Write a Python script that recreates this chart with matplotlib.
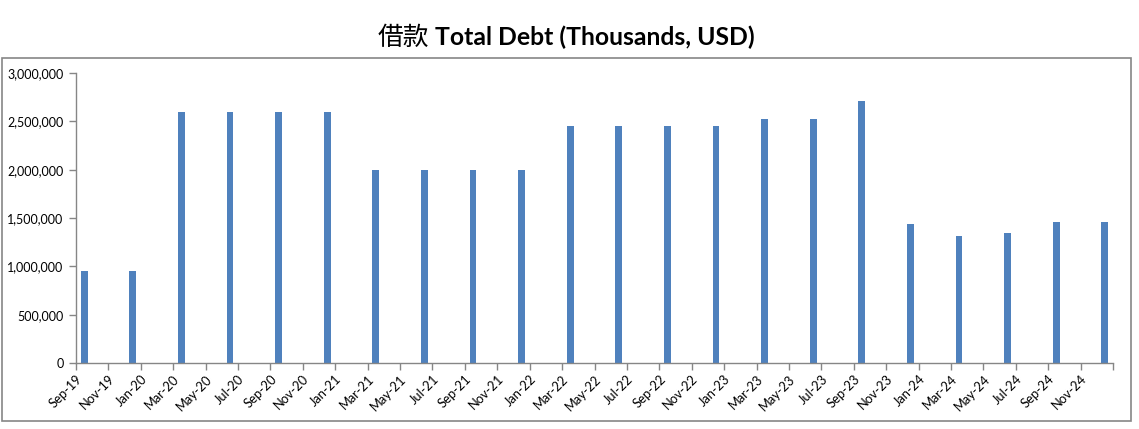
import matplotlib
matplotlib.use('Agg')
import matplotlib.pyplot as plt
from matplotlib.patches import Rectangle
from matplotlib.ticker import FuncFormatter
from matplotlib.transforms import ScaledTranslation
import pandas as pd

quarters = ['Sep-19', 'Dec-19', 'Mar-20', 'Jun-20', 'Sep-20', 'Dec-20', 'Mar-21', 'Jun-21',
            'Sep-21', 'Dec-21', 'Mar-22', 'Jun-22', 'Sep-22', 'Dec-22', 'Mar-23', 'Jun-23',
            'Sep-23', 'Dec-23', 'Mar-24', 'Jun-24', 'Sep-24', 'Dec-24']
total_debt = [950000, 950000, 2600000, 2600000, 2600000, 2600000, 2000000, 2000000,
              2000000, 2000000, 2450000, 2450000, 2450000, 2450000, 2520000, 2520000,
              2710000, 1440000, 1310000, 1340000, 1460000, 1460000]
axis_start = 'Sep-19'
axis_end = 'Jan-25'
title_cn = '借款'
title_en = 'Total Debt (Thousands, USD)'

bar_color = '#4F81BD'
axis_color = '#868686'

plt.rcParams['font.family'] = ['Lato', 'Noto Sans CJK SC', 'DejaVu Sans']


def month_index(label, start):
    d = pd.to_datetime(label, format='%b-%y')
    s = pd.to_datetime(start, format='%b-%y')
    return (d.year - s.year) * 12 + (d.month - s.month)


n_months = month_index(axis_end, axis_start)
x = [month_index(q, axis_start) + 0.5 for q in quarters]
tick_pos = list(range(0, n_months + 1, 2))
months = pd.date_range(pd.to_datetime(axis_start, format='%b-%y'), periods=n_months, freq='MS')
tick_labels = [months[i].strftime('%b-%y') if i < n_months else '' for i in tick_pos]

fig = plt.figure(figsize=(11.39, 4.29), dpi=100)
ax = fig.add_axes([76 / 1139, 66 / 429, 1037 / 1139, 290 / 429])

ax.bar(x, total_debt, width=0.42, color=bar_color, zorder=2)

ax.set_xlim(0, n_months)
ax.set_ylim(0, 3000000)
ax.set_yticks(range(0, 3000001, 500000))
ax.yaxis.set_major_formatter(FuncFormatter(lambda v, p: f'{int(v):,}'))
ax.set_xticks(tick_pos)
ax.set_xticklabels(tick_labels, rotation=45, ha='right', va='top', rotation_mode='anchor')
shift = ScaledTranslation(9 / 100, 0, fig.dpi_scale_trans)
for lbl in ax.get_xticklabels():
    lbl.set_transform(lbl.get_transform() + shift)

for side in ['top', 'right']:
    ax.spines[side].set_visible(False)
for side in ['left', 'bottom']:
    ax.spines[side].set_color(axis_color)
    ax.spines[side].set_linewidth(1)
ax.tick_params(axis='both', colors=axis_color, labelcolor='black', labelsize=9,
               length=5, width=1, direction='out')
ax.tick_params(axis='x', labelsize=9.3, pad=2)
ax.tick_params(axis='y', pad=4)

fig.patches.append(Rectangle((2 / 1139, 8 / 429), 1129 / 1139, 363 / 429,
                             transform=fig.transFigure, fill=False,
                             edgecolor=axis_color, linewidth=1.2))

# title: chinese part regular, english part bold
t1 = fig.text(378 / 1139, 0.912, title_cn, ha='left', va='center', fontsize=18.5,
              family=['Noto Sans CJK SC'])
fig.canvas.draw()
bb = t1.get_window_extent()
fig.text((bb.x1 + 6) / 1139, 0.912, title_en, ha='left', va='center', fontsize=17.8,
         fontweight='bold')

fig.savefig('out.png', dpi=100)
